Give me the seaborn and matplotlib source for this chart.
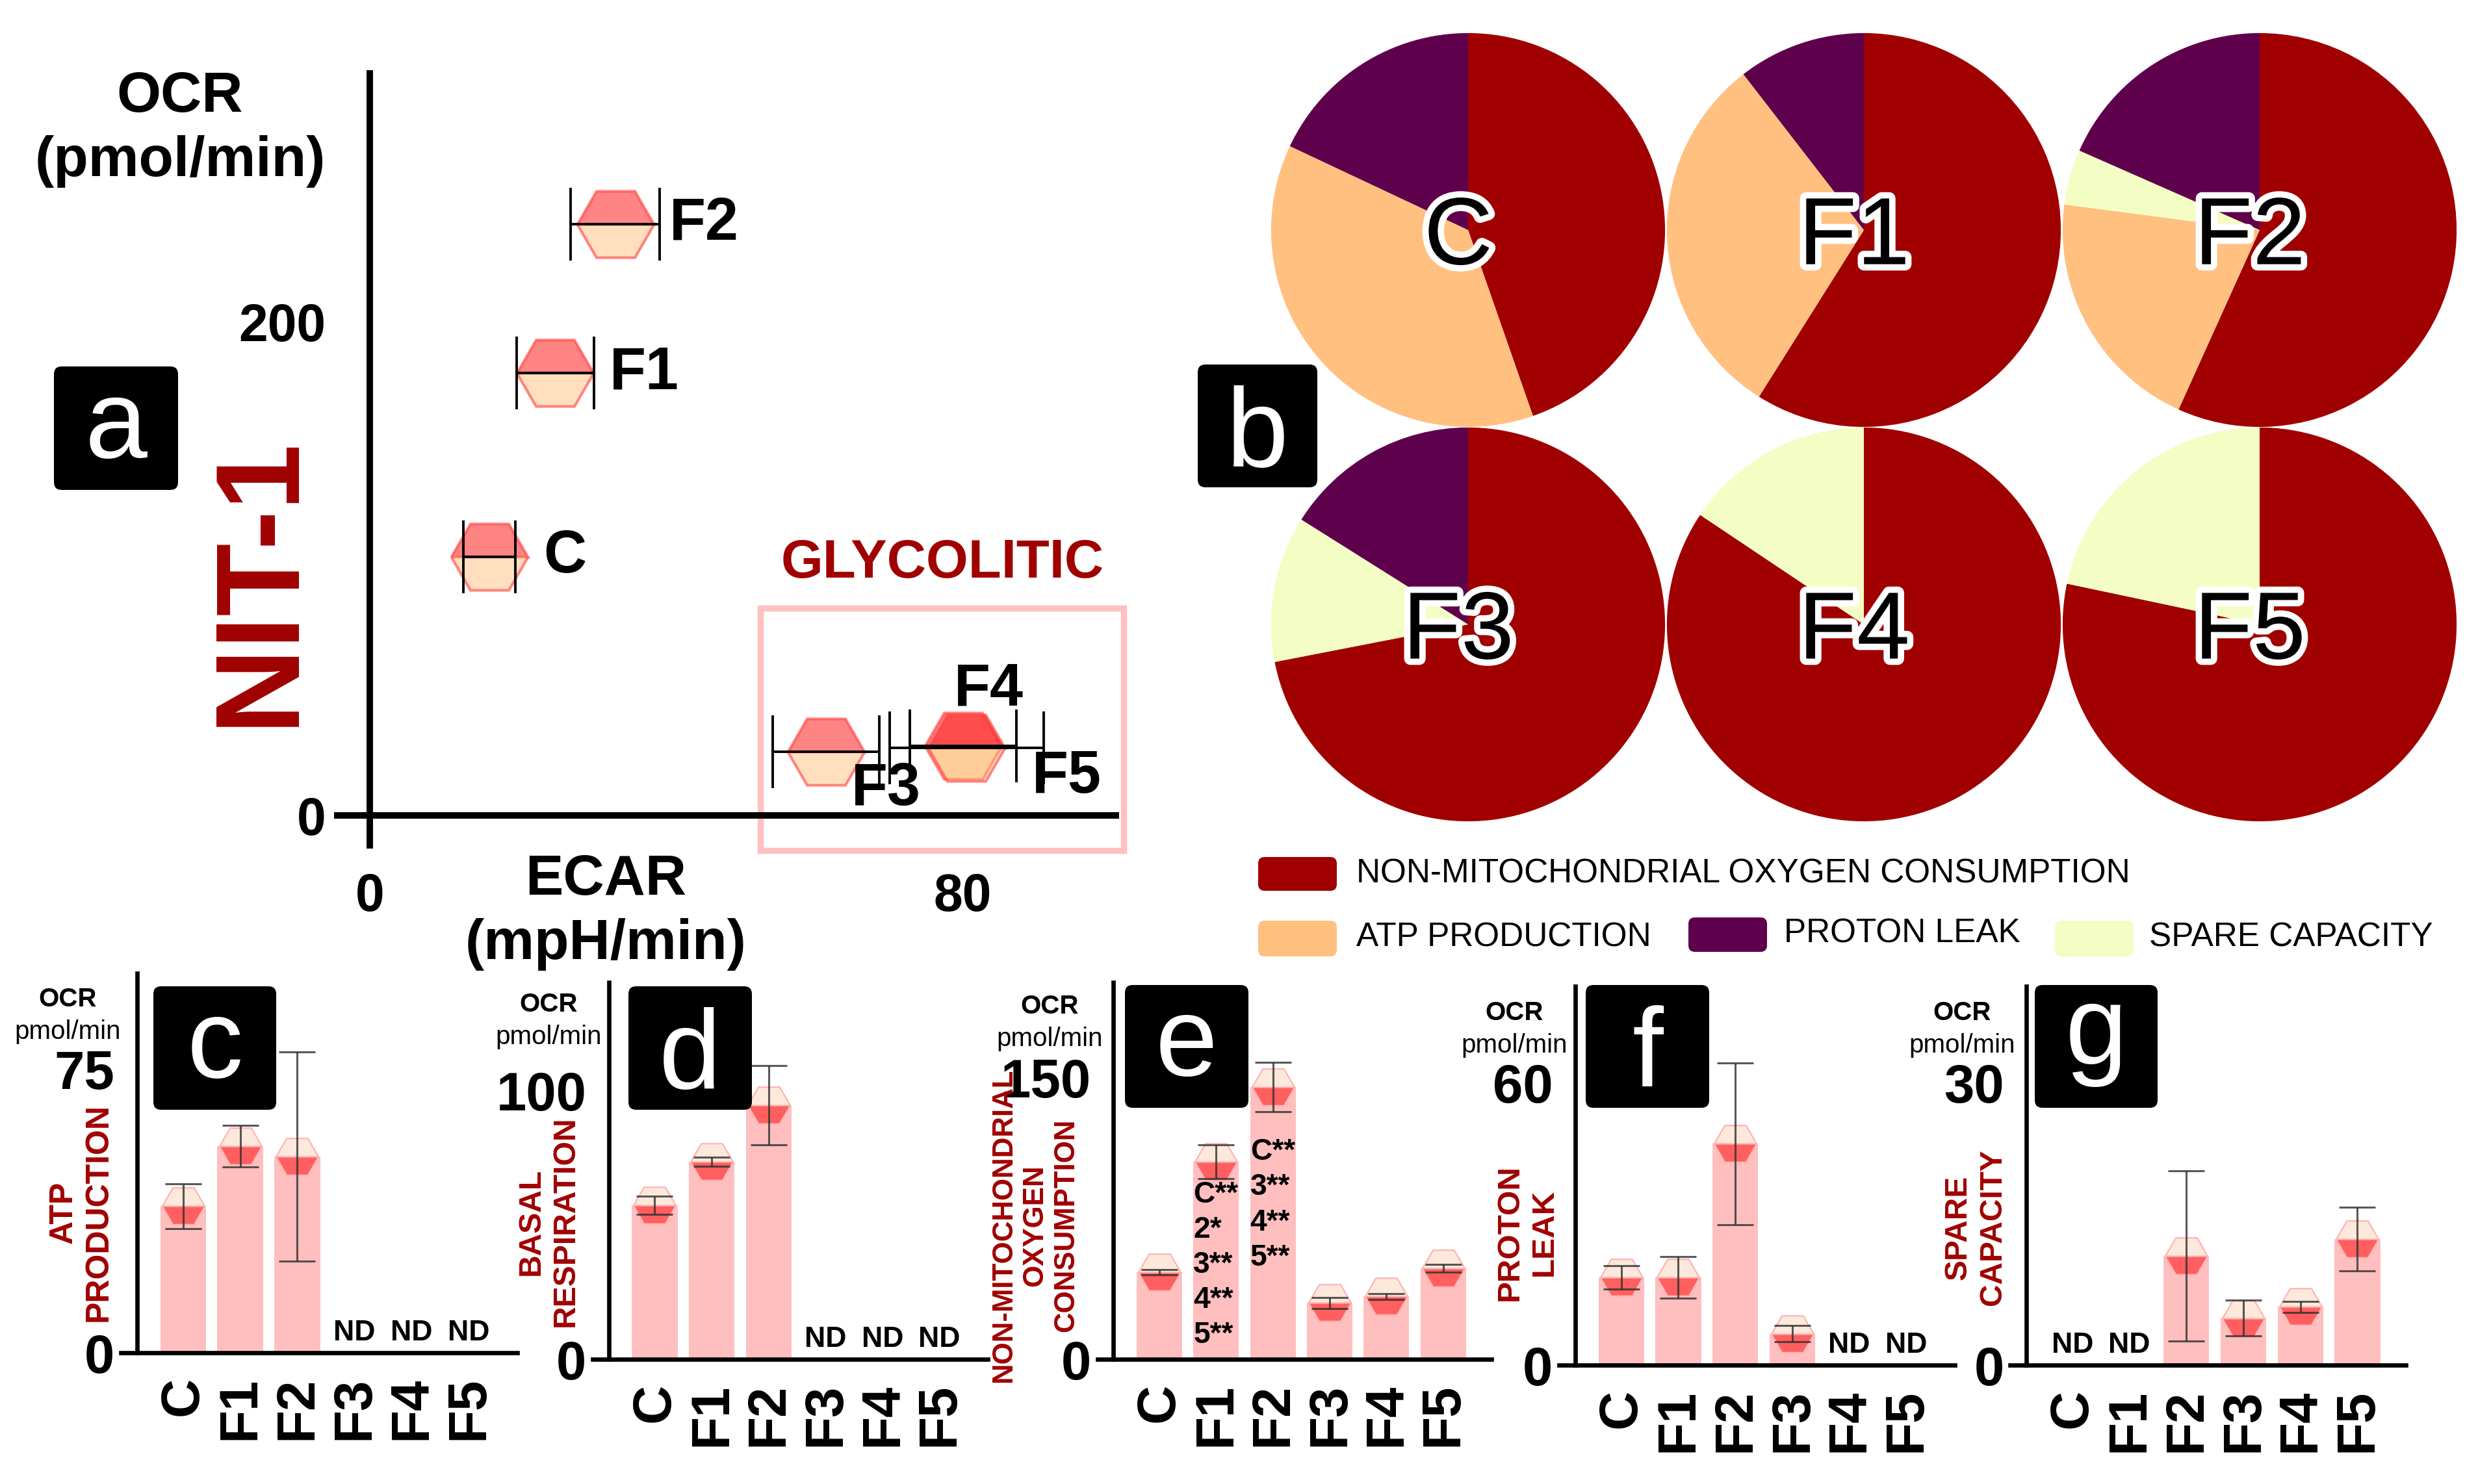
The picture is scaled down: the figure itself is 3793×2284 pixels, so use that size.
import numpy as np
import pandas as pd
import matplotlib
matplotlib.use("Agg")
import matplotlib.pyplot as plt
import matplotlib.patheffects as pe
from matplotlib import font_manager as fm, transforms
from matplotlib.patches import FancyBboxPatch, Rectangle
import seaborn as sns

# ---- data -------------------------------------------------------------
groups = ["C", "F1", "F2", "F3", "F4", "F5"]

# panel a: energy map (ECAR vs OCR, mean +/- sd on ECAR)
ecar = [16.1, 25.0, 33.1, 61.5, 80.0, 80.5]
ecar_sd = [3.5, 5.2, 6.0, 7.2, 7.2, 10.4]
ocr = [104.8, 179.3, 239.8, 25.8, 28.3, 27.5]

# panels c-g (nan = ND)
nd = np.nan
atp = [38.8, 54.6, 51.9, nd, nd, nd]
atp_sd = [5.9, 5.5, 27.7, nd, nd, nd]
basal = [57.3, 73.4, 94.5, nd, nd, nd]
basal_sd = [3.4, 1.7, 14.8, nd, nd, nd]
non_mito = [46.4, 105.2, 145.0, 30.0, 33.5, 48.4]
non_mito_sd = [1.3, 9.0, 13.2, 3.0, 1.6, 2.0]
proton_leak = [18.7, 18.7, 47.0, 6.7, nd, nd]
proton_leak_sd = [2.5, 4.4, 17.2, 1.7, nd, nd]
spare = [nd, nd, 11.6, 5.0, 6.2, 13.4]
spare_sd = [nd, nd, 9.0, 1.9, 0.6, 3.4]

sig_f1 = ["C**", "2*", "3**", "4**", "5**"]
sig_f2 = ["C**", "3**", "4**", "5**"]

legend_labels = ["NON-MITOCHONDRIAL OXYGEN CONSUMPTION", "ATP PRODUCTION",
                 "PROTON LEAK", "SPARE CAPACITY"]

DARK_RED = "#a00000"
C_NMOC, C_ATP, C_PL, C_SC = "#a00000", "#ffc080", "#5f004c", "#f3fdc4"

# ---- setup ------------------------------------------------------------
sns.set_style("white")
plt.rcParams["font.family"] = ["Liberation Sans", "DejaVu Sans"]
plt.rcParams.update({"text.color": "black", "axes.edgecolor": "black",
                     "xtick.color": "black", "ytick.color": "black",
                     "axes.labelcolor": "black"})

names = {f.name for f in fm.fontManager.ttflist}
NARROW = "Liberation Sans Narrow" if "Liberation Sans Narrow" in names else "Liberation Sans"
narrow_k = 1.0 if NARROW == "Liberation Sans Narrow" else 0.84

W, H, DPI = 3793, 2284, 200
fig = plt.figure(figsize=(W / DPI, H / DPI), dpi=DPI)


def frac_rect(l, t, r, b):
    return [l / W, 1 - b / H, (r - l) / W, (b - t) / H]


def ftext(x, y, s, **kw):
    return fig.text(x / W, 1 - y / H, s, **kw)


def letter_box(l, t, r, b, letter):
    fig.add_artist(FancyBboxPatch((l / DPI, (H - b) / DPI), (r - l) / DPI, (b - t) / DPI,
                                  boxstyle="round,pad=0,rounding_size=0.06",
                                  fc="black", ec="none", transform=fig.dpi_scale_trans))
    fs = 62
    off = {"a": 0.26, "b": 0.36, "c": 0.26, "d": 0.36, "e": 0.26, "f": 0.36, "g": 0.155}[letter]
    ftext((l + r) / 2, (t + b) / 2 + off * fs * DPI / 72, letter, color="white",
          fontsize=fs, ha="center", va="baseline")


# ---- panel a: scatter -------------------------------------------------
ax = fig.add_axes(frac_rect(519, 112.9, 1716.6, 1301))
for i, g in enumerate(groups):
    ax.plot(ecar[i], ocr[i], ls="none", marker="H", ms=42.5, fillstyle="top",
            mfc=(1, 0.125, 0.125, 0.55), mfcalt=(1, 0.72, 0.44, 0.45),
            mec=(1, 0.25, 0.25, 0.6), mew=1.5, zorder=2)
ax.errorbar(ecar, ocr, xerr=ecar_sd, fmt="none", ecolor="black", elinewidth=1.4,
            capsize=20, capthick=1.4, zorder=3)

label_off = {"C": (7.3, 0, "left"), "F1": (7.3, 0, "left"), "F2": (7.3, 0, "left"),
             "F3": (8.1, -15.2, "center"), "F4": (3.5, 22.6, "center"), "F5": (13.5, -11.9, "center")}
for i, g in enumerate(groups):
    dx, dy, ha = label_off[g]
    ax.text(ecar[i] + dx, ocr[i] + dy, g, ha=ha, va="center", fontsize=33, fontweight="bold")

ax.add_patch(Rectangle((52.7, -14.1), 49.0, 98.2, fill=False, ec="#ffc0c0", lw=3.4,
                       clip_on=False, zorder=1))
ax.set_xlim(-4.4, 100.6)
ax.set_ylim(-12.1, 300.8)
for s in ["top", "right"]:
    ax.spines[s].set_visible(False)
ax.spines["left"].set_position(("data", 0))
ax.spines["bottom"].set_position(("data", 0))
for s in ["left", "bottom"]:
    ax.spines[s].set_linewidth(3.6)
    ax.spines[s].set_color("black")
ax.set_xticks([0, 80])
ax.set_yticks([0, 200])
ax.tick_params(axis="x", length=16.5, width=3.6, pad=15, labelsize=29, colors="black")
ax.tick_params(axis="y", length=18, width=3.6, pad=6.5, labelsize=29, colors="black")
for lab in ax.get_xticklabels() + ax.get_yticklabels():
    lab.set_fontweight("bold")

ftext(277, 199, "OCR\n(pmol/min)", ha="center", va="center", fontsize=31.5,
      fontweight="bold", linespacing=1.3)
ftext(932, 1404, "ECAR\n(mpH/min)", ha="center", va="center", fontsize=31.5,
      fontweight="bold", linespacing=1.3)
ftext(401, 894, "NIT-1", rotation=90, ha="center", va="center", fontsize=66,
      fontweight="bold", color=DARK_RED)
ftext(1450, 867, "GLYCOLITIC", ha="center", va="center", fontsize=30,
      fontweight="bold", color=DARK_RED)
letter_box(83, 564, 274, 754, "a")

# ---- panel b: pies ----------------------------------------------------
pie_centers = [(2259, 354), (2868, 354), (3477, 354), (2259, 961), (2868, 961), (3477, 961)]
R = 304
for i, g in enumerate(groups):
    cx, cy = pie_centers[i]
    pax = fig.add_axes(frac_rect(cx - R, cy - R, cx + R, cy + R))
    vals = np.nan_to_num([non_mito[i], atp[i], spare[i], proton_leak[i]])
    pax.pie(vals, colors=[C_NMOC, C_ATP, C_SC, C_PL], startangle=90, counterclock=False,
            radius=1, wedgeprops=dict(linewidth=0))
    pax.set_xlim(-1.003, 1.003)
    pax.set_ylim(-1.003, 1.003)
    pax.set_aspect("equal")
    pax.axis("off")
    fs = 63 * narrow_k
    ftext(cx - 15, cy + 0.358 * fs * DPI / 72, g, ha="center", va="baseline",
          fontsize=fs, family=NARROW, color="black",
          path_effects=[pe.Stroke(linewidth=7, foreground="white"), pe.Normal()])
letter_box(1843, 561, 2027, 750, "b")

# legend
leg_items = [
    (legend_labels[0], C_NMOC, (1936, 1319, 2057, 1371), 2087, 1345),
    (legend_labels[1], C_ATP, (1936, 1417, 2057, 1472), 2087, 1443),
    (legend_labels[2], C_PL, (2598, 1412, 2719, 1465), 2745, 1437),
    (legend_labels[3], C_SC, (3162, 1417, 3283, 1472), 3307, 1443),
]
for text, col, (l, t, r, b), tx, ty in leg_items:
    fig.add_artist(FancyBboxPatch((l / DPI, (H - b) / DPI), (r - l) / DPI, (b - t) / DPI,
                                  boxstyle="round,pad=0,rounding_size=0.05",
                                  fc=col, ec="none", transform=fig.dpi_scale_trans))
    ftext(tx, ty, text, ha="left", va="center", fontsize=22 * narrow_k, family=NARROW)


# ---- panels c-g: bars -------------------------------------------------
def bar_panel(rect_px, mean, sd, ytick, ytop, ylab, ylab_xy, ylab_fs, ocr_xy, box, letter):
    ax = fig.add_axes(frac_rect(*rect_px))
    df = pd.DataFrame({"group": groups, "value": mean})
    df["value"] = df["value"].fillna(0)
    sns.barplot(data=df, x="group", y="value", order=groups, color="#ffbfbf",
                saturation=1, width=0.8, errorbar=None, linewidth=0, ax=ax, zorder=1)
    x = np.arange(len(groups))
    ax.plot(x, mean, ls="none", marker="H", ms=23.5, fillstyle="bottom",
            mfc="#ff5f5f", mfcalt="#fde9dc", mec="#ffb3b3", mew=0.8, zorder=3, clip_on=False)
    ax.errorbar(x, mean, yerr=sd, fmt="none", ecolor="#303030", elinewidth=1.1,
                capsize=10, capthick=1.1, alpha=0.8, zorder=4)
    nd_trans = transforms.offset_copy(ax.transData, fig=fig, x=0, y=19, units="dots")
    for i, v in enumerate(mean):
        if np.isnan(v):
            ax.text(i, 0, "ND", transform=nd_trans, ha="center", va="baseline",
                    fontsize=16, fontweight="bold")
    ax.set_xlim(-1.09, 5.85)
    ax.set_ylim(0, ytop)
    for s in ["top", "right"]:
        ax.spines[s].set_visible(False)
    ax.spines["left"].set_position(("data", -0.81))
    for s in ["left", "bottom"]:
        ax.spines[s].set_linewidth(2.4)
        ax.spines[s].set_color("black")
    ax.set_yticks([0, ytick])
    ax.set_xticks(x)
    ax.set_xticklabels(groups, rotation=90)
    ax.set_xlabel("")
    ax.set_ylabel("")
    ax.tick_params(axis="x", length=9.5, width=2.4, pad=3.6, labelsize=30, colors="black")
    ax.tick_params(axis="y", length=8.7, width=2.4, pad=3.6, labelsize=30, colors="black")
    for lab in ax.get_xticklabels() + ax.get_yticklabels():
        lab.set_fontweight("bold")

    ftext(ylab_xy[0], ylab_xy[1], ylab, rotation=90, ha="center", va="center",
          multialignment="center", fontsize=ylab_fs, fontweight="bold", color=DARK_RED,
          linespacing=1.22)
    ftext(ocr_xy[0], ocr_xy[1], "OCR", ha="center", va="center", fontsize=14.5, fontweight="bold")
    ftext(ocr_xy[0], ocr_xy[1] + 50, "pmol/min", ha="center", va="center", fontsize=14.5)
    letter_box(*box, letter)
    return ax


bar_panel((186, 1498, 795.6, 2082), atp, atp_sd, 75, 100.4, "ATP\nPRODUCTION",
          (125, 1866), 18, (104, 1538), (236, 1518, 425, 1708), "c")
bar_panel((912, 1511.6, 1520, 2092), basal, basal_sd, 100, 140.2, "BASAL\nRESPIRATION",
          (844, 1880), 17.3, (844.5, 1546), (967, 1518, 1157, 1708), "d")
ax_e = bar_panel((1688.7, 1511.6, 2295, 2092), non_mito, non_mito_sd, 150, 200.9,
                 "NON-MITOCHONDRIAL\nOXYGEN\nCONSUMPTION",
                 (1593, 1886), 15.8, (1615, 1549), (1731, 1516, 1921, 1705), "e")
bar_panel((2399, 1518, 3008, 2101.4), proton_leak, proton_leak_sd, 60, 80.4, "PROTON\nLEAK",
          (2350, 1897), 17.8, (2330, 1559), (2440, 1516, 2630, 1705), "f")
bar_panel((3093.4, 1518, 3702, 2101.4), spare, spare_sd, 30, 40.2, "SPARE\nCAPACITY",
          (3040, 1889), 17.2, (3019, 1559), (3131, 1516, 3320, 1705), "g")

# significance marks inside the F1 and F2 bars of panel e
ax_e.text(0.6, 50.2, "\n".join(sig_f1), ha="left", va="center", fontsize=16.6,
          fontweight="bold", linespacing=1.3, zorder=5)
ax_e.text(1.6, 82.2, "\n".join(sig_f2), ha="left", va="center", fontsize=16.6,
          fontweight="bold", linespacing=1.3, zorder=5)

fig.savefig("out.png", dpi=DPI)
